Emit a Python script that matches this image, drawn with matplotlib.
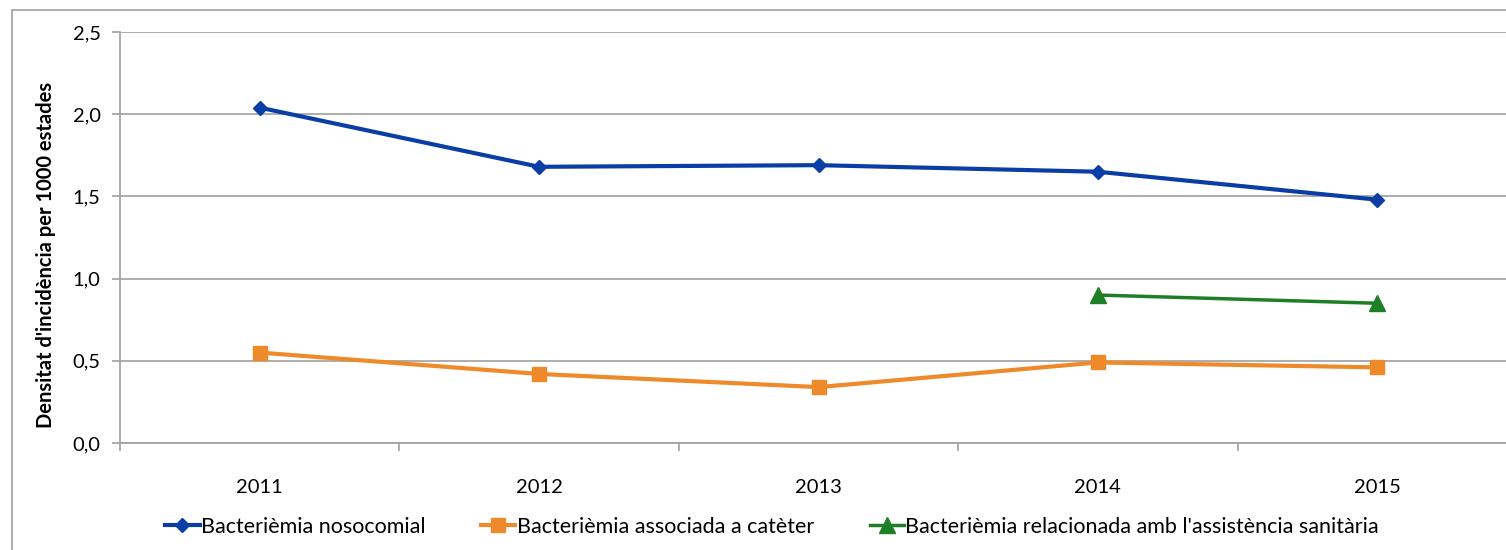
import matplotlib
matplotlib.use("Agg")
from matplotlib import pyplot as plt
from matplotlib.patches import Rectangle
import numpy as np

years = ["2011", "2012", "2013", "2014", "2015"]
nosocomial = [2.04, 1.68, 1.69, 1.65, 1.48]
cateter = [0.55, 0.42, 0.34, 0.49, 0.46]
assistencia = [np.nan, np.nan, np.nan, 0.90, 0.85]
y_ticks = [0.0, 0.5, 1.0, 1.5, 2.0, 2.5]

plt.rcParams["font.family"] = ["Lato", "DejaVu Sans"]

W, H = 1506, 550
fig = plt.figure(figsize=(W / 100, H / 100), dpi=100)
# plot area in pixels: left 120, right 1517 (beyond the image), top 32, bottom 443
ax = fig.add_axes([120 / W, 1 - 443 / H, (1517 - 120) / W, (443 - 32) / H])

# outer chart frame
fig.patches.append(Rectangle((12 / W, -0.1), 1.2, 1 - 10 / H + 0.1, transform=fig.transFigure,
                             fill=False, edgecolor="#a0a0a0", linewidth=1.2))

x = np.arange(len(years))
ax.plot(x, nosocomial, color="#0a3ea6", linewidth=3, marker="D", markersize=7.5,
        label="Bacterièmia nosocomial")
ax.plot(x, cateter, color="#ee8a2a", linewidth=3, marker="s", markersize=10,
        label="Bacterièmia associada a catèter")
ax.plot(x, assistencia, color="#1f7f26", linewidth=2.5, marker="^", markersize=11,
        label="Bacterièmia relacionada amb l'assistència sanitària")

ax.set_xlim(-0.5, len(years) - 0.5)
ax.set_ylim(0, 2.5)
ax.set_yticks(y_ticks)
ax.set_yticklabels([f"{v:.1f}".replace(".", ",") for v in y_ticks], fontsize=14.5)
ax.set_xticks(x)
ax.set_xticklabels(years, fontsize=14.5)
ax.set_xticks(np.arange(len(years) + 1) - 0.5, minor=True)
ax.tick_params(axis="x", which="major", length=0, pad=26)
ax.tick_params(axis="x", which="minor", length=6, color="#a0a0a0", width=1.2)
ax.tick_params(axis="y", length=6, color="#a0a0a0", width=1.2, pad=8)

ax.grid(axis="y", color="#a0a0a0", linewidth=1.2)
ax.set_axisbelow(True)
for side in ["top", "right"]:
    ax.spines[side].set_visible(False)
for side in ["left", "bottom"]:
    ax.spines[side].set_color("#a0a0a0")
    ax.spines[side].set_linewidth(1.2)

ax.set_ylabel("Densitat d'incidència per 1000 estades", fontsize=14.5, fontweight="bold")
ax.yaxis.set_label_coords(-64 / 1397, (443 - 255) / 411)

leg = fig.legend(loc="center", bbox_to_anchor=(772 / W, 1 - 527 / H), ncol=3, frameon=False,
                 fontsize=15.5, handlelength=1.6, handletextpad=0.05, columnspacing=2.6)

fig.savefig("out.png", dpi=100)
